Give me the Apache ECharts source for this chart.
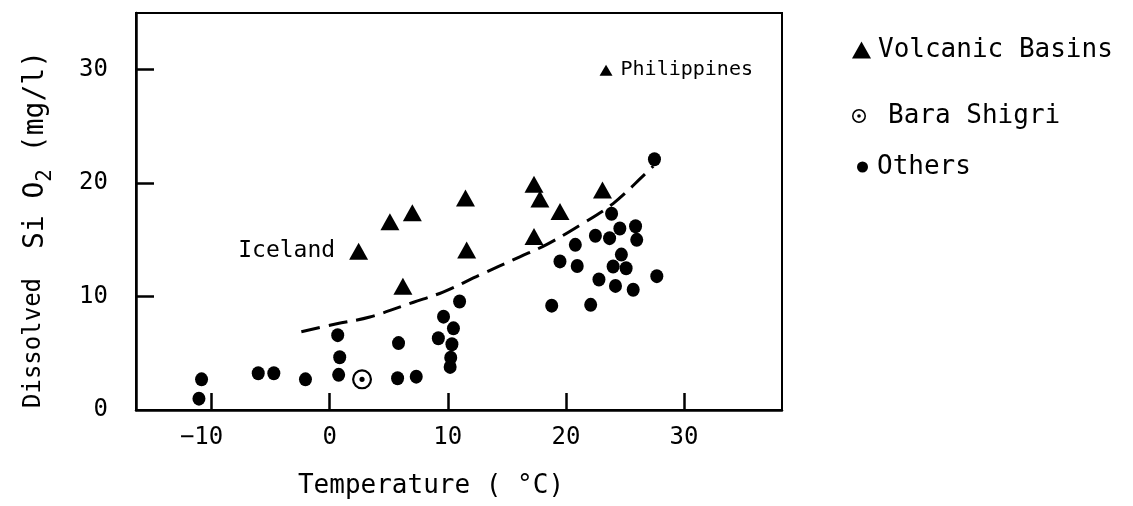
<!DOCTYPE html>
<html>
<head>
<meta charset="utf-8">
<script src="https://cdn.jsdelivr.net/npm/echarts@6/dist/echarts.min.js"></script>
<style>
  html, body { margin: 0; padding: 0; background: #fff; }
  #chart { width: 1133px; height: 506px; }
</style>
</head>
<body>
<div id="chart"></div>
<script>
// Dissolved silica in glacial/stream waters against water temperature

// Volcanic basins (triangles)
const volcanicSites = ['Iceland', '', '', '', '', '', '', '', '', '', '', 'Philippines'];
const volcanicTemp = [2.45, 5.1, 7.0, 6.2, 11.5, 11.6, 17.3, 17.8, 19.5, 17.3, 23.1, 23.4];
const volcanicSilica = [14.0, 16.6, 17.4, 10.9, 18.7, 14.1, 19.9, 18.6, 17.5, 15.3, 19.4, 29.95];

// Bara Shigri glacier
const baraTemp = [2.74];
const baraSilica = [2.7];

// Other basins (dots)
const otherTemp = [
  -10.85, -11.07, -6.05, -4.73, -2.05, 0.68, 0.85, 0.76, 5.83, 5.75, 7.33,
  9.64, 10.48, 9.2, 10.35, 10.25, 10.2, 11.0,
  27.5, 23.87, 22.5, 23.7, 24.57, 25.9, 26.0, 20.8, 19.5, 20.96, 24.7, 24.0,
  25.1, 22.8, 24.2, 25.7, 27.7, 18.8, 22.1
];
const otherSilica = [
  2.7, 1.0, 3.24, 3.24, 2.7, 6.6, 4.65, 3.1, 5.9, 2.8, 2.94,
  8.23, 7.2, 6.33, 5.8, 4.6, 3.8, 9.56,
  22.1, 17.3, 15.36, 15.15, 16.0, 16.2, 15.0, 14.56, 13.1, 12.7, 13.7, 12.65,
  12.5, 11.5, 10.94, 10.6, 11.8, 9.2, 9.27
];

// Trend of the non-volcanic basins (dashed curve)
const trendTemp = [-2.4, 0.6, 3.4, 7.1, 9.6, 12.7, 16.1, 18.4, 21.2, 24.0, 26.8, 27.4];
const trendSilica = [6.9, 7.6, 8.2, 9.5, 10.4, 11.9, 13.5, 14.6, 16.3, 18.2, 20.9, 21.5];

// Axis ticks
const xTicks = [-10, 0, 10, 20, 30];
const yTicks = [0, 10, 20, 30];

const FONT = '"DejaVu Sans Mono", "Liberation Mono", monospace';
const INK = '#000';

// circle with a centre dot
const ringDot = 'path://M12 2 A10 10 0 1 1 12 22 A10 10 0 1 1 12 2 Z ' +
  'M12 4.2 A7.8 7.8 0 1 0 12 19.8 A7.8 7.8 0 1 0 12 4.2 Z ' +
  'M12 9.4 A2.6 2.6 0 1 1 12 14.6 A2.6 2.6 0 1 1 12 9.4 Z';

const pairs = (xs, ys) => xs.map((x, i) => [x, ys[i]]);

const volcanicData = volcanicTemp.map((t, i) => {
  const item = { value: [t, volcanicSilica[i]], name: volcanicSites[i] };
  if (volcanicSites[i] === 'Iceland') {
    item.label = { show: true, position: 'left', distance: 14, formatter: '{b}', fontSize: 23 };
  } else if (volcanicSites[i] === 'Philippines') {
    item.symbolSize = [13, 11];
    item.label = { show: true, position: 'right', distance: 8, formatter: '{b}', fontSize: 20 };
  }
  return item;
});

const chart = echarts.init(document.getElementById('chart'), null, { renderer: 'canvas' });

chart.setOption({
  backgroundColor: '#fff',
  animation: false,
  textStyle: { fontFamily: FONT, color: INK },
  grid: {
    left: 136, right: 351, top: 13, bottom: 96,
    show: true, borderColor: INK, borderWidth: 2, backgroundColor: 'transparent'
  },
  xAxis: {
    type: 'value',
    min: -16.4, max: 38.3,
    splitLine: { show: false },
    axisLine: { onZero: false, lineStyle: { color: INK, width: 2.5 } },
    axisTick: { inside: true, length: 17, lineStyle: { color: INK, width: 2.5 }, customValues: xTicks },
    axisLabel: {
      customValues: xTicks, margin: 16, fontSize: 24, color: INK, fontFamily: FONT,
      formatter: v => (v < 0 ? '{n|\u2212' + Math.abs(v) + '}' : String(v)),
      rich: { n: { fontSize: 24, fontFamily: FONT, color: INK, padding: [0, 20, 0, 0] } }
    },
    name: 'Temperature ( °C)',
    nameLocation: 'middle', nameGap: 63,
    nameTextStyle: { fontSize: 26, color: INK, fontFamily: FONT, padding: [0, 56, 0, 0] }
  },
  yAxis: {
    type: 'value',
    min: 0, max: 35,
    splitLine: { show: false },
    axisLine: { onZero: false, lineStyle: { color: INK, width: 2.5 } },
    axisTick: { inside: true, length: 18, lineStyle: { color: INK, width: 2.5 }, customValues: [10, 20, 30] },
    axisLabel: { customValues: yTicks, margin: 28, fontSize: 24, color: INK, fontFamily: FONT },
    name: '{d|Dissolved  }{t|Si O}{s|2}{t| (mg/l)}',
    nameLocation: 'middle', nameGap: 80, nameRotate: 90,
    nameTextStyle: {
      color: INK, fontFamily: FONT, padding: [0, 36, 0, 0],
      rich: {
        d: { fontSize: 24, fontFamily: FONT, color: INK, lineHeight: 34, verticalAlign: 'top' },
        t: { fontSize: 28, fontFamily: FONT, color: INK, lineHeight: 34, verticalAlign: 'top' },
        s: { fontSize: 21, fontFamily: FONT, color: INK, lineHeight: 34, verticalAlign: 'bottom', padding: [12, 0, 0, 0] }
      }
    }
  },
  legend: [
    {
      data: [{ name: 'Volcanic Basins', icon: 'triangle' }],
      left: 852, top: 37, padding: 0, itemWidth: 19, itemHeight: 17, itemGap: 0,
      textStyle: { fontSize: 26, color: INK, fontFamily: FONT, padding: [0, 0, 0, 2] },
      selectedMode: false
    },
    {
      data: [{ name: 'Bara Shigri', icon: ringDot }],
      left: 852, top: 103, padding: 0, itemWidth: 14, itemHeight: 14,
      textStyle: { fontSize: 26, color: INK, fontFamily: FONT, padding: [0, 0, 0, 17] },
      selectedMode: false
    },
    {
      data: [{ name: 'Others', icon: 'circle' }],
      left: 857, top: 154, padding: 0, itemWidth: 11, itemHeight: 11,
      textStyle: { fontSize: 26, color: INK, fontFamily: FONT, padding: [0, 0, 0, 4] },
      selectedMode: false
    }
  ],
  series: [
    {
      name: 'Trend',
      type: 'line',
      data: pairs(trendTemp, trendSilica),
      smooth: 0.35,
      showSymbol: false,
      symbol: 'none',
      lineStyle: { color: INK, width: 3, type: [19, 9] },
      silent: true,
      z: 1
    },
    {
      name: 'Volcanic Basins',
      type: 'scatter',
      data: volcanicData,
      symbol: 'triangle',
      symbolSize: [19, 17],
      itemStyle: { color: INK, opacity: 1 },
      label: { color: INK, fontFamily: FONT },
      z: 3
    },
    {
      name: 'Bara Shigri',
      type: 'scatter',
      data: pairs(baraTemp, baraSilica),
      symbol: ringDot,
      symbolSize: 20,
      itemStyle: { color: INK, opacity: 1 },
      z: 3
    },
    {
      name: 'Others',
      type: 'scatter',
      data: pairs(otherTemp, otherSilica),
      symbol: 'circle',
      symbolSize: [13, 14],
      itemStyle: { color: INK, opacity: 1 },
      z: 3
    }
  ]
});
</script>
</body>
</html>
